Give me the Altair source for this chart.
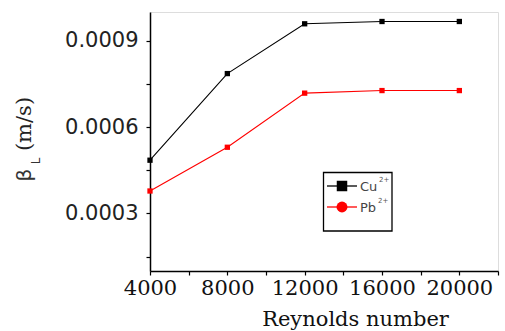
import altair as alt
import pandas as pd

reynolds = [4000, 8000, 12000, 16000, 20000]
cu_values = [0.000485, 0.000786, 0.000959, 0.000967, 0.000967]
pb_values = [0.000378, 0.000530, 0.000718, 0.000727, 0.000727]
series_names = ["Cu", "Pb"]
series_charge = ["2+", "2+"]
series_colors = ["#000000", "#ff0000"]
legend_shapes = ["square", "circle"]
x_ticks = [4000, 6000, 8000, 10000, 12000, 14000, 16000, 18000, 20000, 22000]
y_ticks = [0.00015, 0.0003, 0.00045, 0.0006, 0.00075, 0.0009]

df = pd.DataFrame({
    "Re": reynolds * 2,
    "beta": cu_values + pb_values,
    "ion": [series_names[0]] * len(reynolds) + [series_names[1]] * len(reynolds),
})

cscale = alt.Scale(domain=series_names, range=series_colors)

x_enc = alt.X("Re:Q", scale=alt.Scale(domain=[4000, 22000], nice=False, zero=False),
              axis=alt.Axis(title="Reynolds number", values=x_ticks, format="d",
                            labelExpr="datum.value % 4000 === 0 && datum.value <= 20000 ? datum.label : ''",
                            labelOverlap=False, labelFlush=False,
                            labelFont="DejaVu Serif", labelFontSize=21, labelColor="#111",
                            labelPadding=2, tickSize=4, tickColor="black", domainColor="black",
                            domainWidth=1.5, tickWidth=1.2, grid=False,
                            titleFont="DejaVu Serif", titleFontSize=21, titleFontWeight="normal",
                            titleColor="#111", titleX=205, titleY=54, titleBaseline="alphabetic",
                            titleAnchor="middle"))
y_enc = alt.Y("beta:Q", scale=alt.Scale(domain=[0.0001, 0.001], nice=False, zero=False),
              axis=alt.Axis(title=None, values=y_ticks, format=".4f",
                            labelExpr="indexof(['0.0003','0.0006','0.0009'], datum.label) >= 0 ? datum.label : ''",
                            labelOverlap=False, labelFont="DejaVu Sans", labelFontSize=21,
                            labelColor="#222", labelPadding=8, tickSize=4, tickColor="black",
                            domainColor="black", domainWidth=1.5, tickWidth=1.2, grid=False))

lines = alt.Chart(df).mark_line(
    strokeWidth=1.1,
    point=alt.OverlayMarkDef(shape="square", filled=True, size=28),
).encode(x=x_enc, y=y_enc, color=alt.Color("ion:N", scale=cscale, legend=None))

one = pd.DataFrame({"k": [0]})

# legend box (pixel placement relative to plot area)
box = alt.Chart(one).mark_rect(fill="white", stroke="black", strokeWidth=1.3).encode(
    x=alt.value(173.5), x2=alt.value(242), y=alt.value(160.5), y2=alt.value(219))

legend_layers = []
for i, (name, charge, col, shp) in enumerate(zip(series_names, series_charge, series_colors, legend_shapes)):
    yy = 174 + 21 * i
    legend_layers.append(alt.Chart(one).mark_rule(color=col, strokeWidth=1.3).encode(
        x=alt.value(177), x2=alt.value(207), y=alt.value(yy)))
    legend_layers.append(alt.Chart(one).mark_point(
        shape=shp, filled=True, color=col, opacity=1, size=110 if shp == "square" else 120
    ).encode(x=alt.value(192), y=alt.value(yy)))
    legend_layers.append(alt.Chart(pd.DataFrame({"t": [name]})).mark_text(
        font="DejaVu Sans", fontSize=13, color="#444", align="left", baseline="middle"
    ).encode(text="t:N", x=alt.value(210), y=alt.value(yy + 1)))
    legend_layers.append(alt.Chart(pd.DataFrame({"t": [charge]})).mark_text(
        font="DejaVu Sans", fontSize=7, color="#555", align="left", baseline="middle"
    ).encode(text="t:N", x=alt.value(229 if name == "Cu" else 228), y=alt.value(yy - 6)))

title_beta = alt.Chart(pd.DataFrame({"t": ["β"]})).mark_text(
    angle=270, font="DejaVu Sans", fontSize=20, color="#333", align="center", baseline="middle"
).encode(text="t:N", x=alt.value(-125), y=alt.value(163))
title_sub = alt.Chart(pd.DataFrame({"t": ["L"]})).mark_text(
    angle=270, font="DejaVu Sans", fontSize=12, color="#333", align="center", baseline="middle"
).encode(text="t:N", x=alt.value(-114), y=alt.value(149))
title_unit = alt.Chart(pd.DataFrame({"t": ["(m/s)"]})).mark_text(
    angle=270, font="DejaVu Serif", fontSize=21, color="#222", align="center", baseline="middle"
).encode(text="t:N", x=alt.value(-125), y=alt.value(112))

chart = alt.layer(lines, box, *legend_layers, title_beta, title_sub, title_unit).properties(
    width=348, height=259,
    padding={"left": 150, "top": 12, "right": 7, "bottom": 60},
    autosize=alt.AutoSizeParams(type="none"),
).configure_view(stroke=None).configure(background="white")

chart.save("out.html", embed_options={"renderer": "svg", "actions": False})
